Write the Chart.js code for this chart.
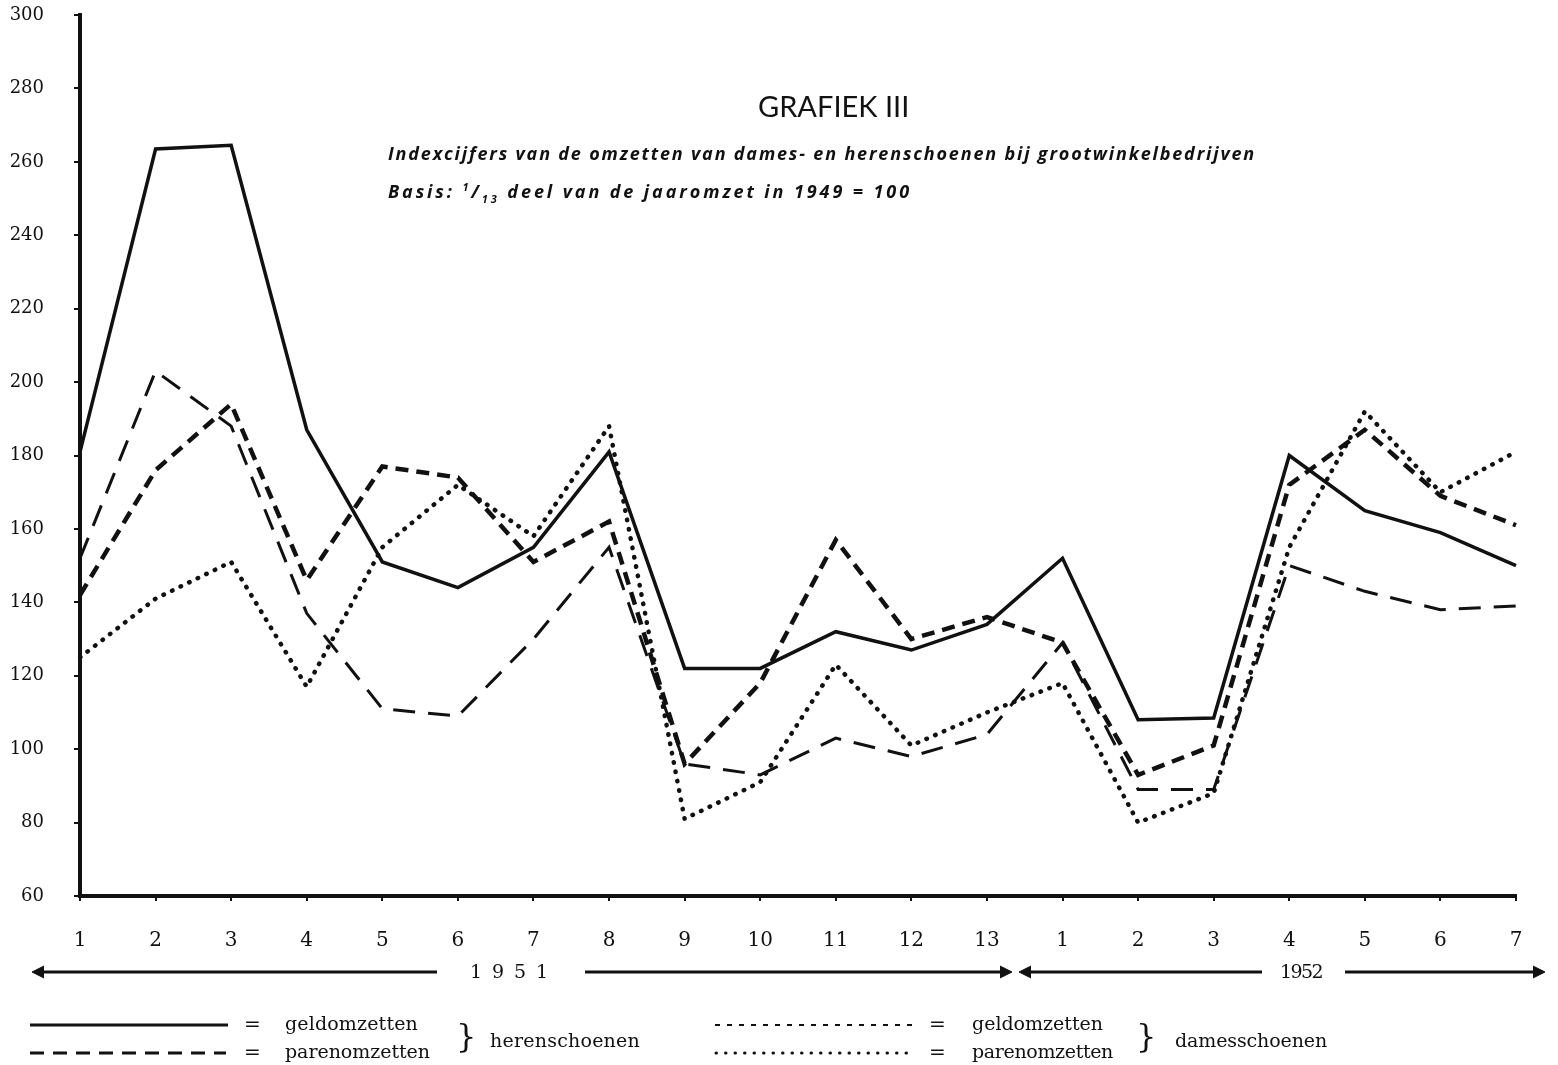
<!DOCTYPE html>
<html><head><meta charset="utf-8">
<script src="https://cdn.jsdelivr.net/npm/chart.js@4/dist/chart.umd.min.js"></script>
<style>
body{margin:0;background:#fff;}
#wrap{position:relative;width:1558px;height:1065px;overflow:hidden;background:#fff;}
#c{position:absolute;left:0;top:0;}
#ov{position:absolute;left:0;top:0;}
.t{position:absolute;white-space:nowrap;line-height:1;color:#111;}
.serif{font-family:"DejaVu Serif","Liberation Serif",serif;}
.sans{font-family:Lato,"Open Sans",sans-serif;}
.sub{font-family:"Open Sans",Lato,sans-serif;font-weight:bold;font-style:italic;font-size:18px;}
sup,sub{font-size:11px;}
</style></head>
<body><div id="wrap">
<canvas id="c" width="1558" height="1065"></canvas>
<svg id="ov" width="1558" height="1065" xmlns="http://www.w3.org/2000/svg">
  <g stroke="#111" fill="none" stroke-width="3">
    <line x1="36" y1="972" x2="437" y2="972"/>
    <path d="M44 966 L32 972 L44 978" fill="#111" stroke-width="1"/>
    <line x1="585" y1="972" x2="1005" y2="972"/>
    <path d="M1000 966 L1012 972 L1000 978" fill="#111" stroke-width="1"/>
    <line x1="1026" y1="972" x2="1262" y2="972"/>
    <path d="M1031 966 L1019 972 L1031 978" fill="#111" stroke-width="1"/>
    <line x1="1345" y1="972" x2="1538" y2="972"/>
    <path d="M1533 966 L1545 972 L1533 978" fill="#111" stroke-width="1"/>
  </g>
  <g stroke="#111" fill="none">
    <line x1="30" y1="1025" x2="228" y2="1025" stroke-width="3"/>
    <line x1="30" y1="1053" x2="226" y2="1053" stroke-width="3" stroke-dasharray="14 9"/>
    <line x1="715" y1="1025" x2="915" y2="1025" stroke-width="2" stroke-dasharray="5 7"/>
    <line x1="716" y1="1053" x2="915" y2="1053" stroke-width="3" stroke-dasharray="0.5 9" stroke-linecap="round"/>
  </g>
</svg>
<div class="t sans" id="title" style="left:758px;top:91px;font-size:29px;">GRAFIEK III</div>
<div class="t sub" id="sub1" style="left:388px;top:144px;">Indexcijfers van de omzetten van dames- en herenschoenen bij grootwinkelbedrijven</div>
<div class="t sub" id="sub2" style="left:388px;top:181px;">Basis: <sup>1</sup>/<sub>13</sub> deel van de jaaromzet in 1949 = 100</div>
<div class="t serif" id="y1951" style="left:470px;top:962px;font-size:19px;">1 9 5 1</div>
<div class="t serif" id="y1952" style="left:1280px;top:962px;font-size:19px;">1952</div>
<div class="t serif" style="left:244px;top:1014px;font-size:20px;">=</div>
<div class="t serif" id="l1" style="left:285px;top:1014px;font-size:19px;">geldomzetten</div>
<div class="t serif" style="left:244px;top:1042px;font-size:20px;">=</div>
<div class="t serif" id="l2" style="left:285px;top:1042px;font-size:19px;">parenomzetten</div>
<div class="t serif" style="left:456px;top:1020px;font-size:32px;">}</div>
<div class="t serif" id="l3" style="left:490px;top:1031px;font-size:19px;">herenschoenen</div>
<div class="t serif" style="left:929px;top:1014px;font-size:20px;">=</div>
<div class="t serif" id="l4" style="left:972px;top:1014px;font-size:19px;">geldomzetten</div>
<div class="t serif" style="left:929px;top:1042px;font-size:20px;">=</div>
<div class="t serif" id="l5" style="left:972px;top:1042px;font-size:19px;">parenomzetten</div>
<div class="t serif" style="left:1136px;top:1020px;font-size:32px;">}</div>
<div class="t serif" id="l6" style="left:1175px;top:1031px;font-size:19px;">damesschoenen</div>
</div>
<script>
const labels = ['1','2','3','4','5','6','7','8','9','10','11','12','13','1','2','3','4','5','6','7'];
const yTicks = [60,80,100,120,140,160,180,200,220,240,260,280,300];
// herenschoenen
const herenGeld  = [181, 263.5, 264.5, 187, 151, 144, 155, 181, 122, 122, 132, 127, 134, 152, 108, 108.5, 180, 165, 159, 150];
const herenParen = [152, 203, 188, 137, 111, 109, 130, 155, 96, 93, 103, 98, 104, 129, 89, 89, 150, 143, 138, 139];
// damesschoenen
const damesGeld  = [142, 176, 194, 146, 177, 174, 151, 162, 96, 118, 157, 130, 136, 129, 93, 101, 172, 187, 169, 161];
const damesParen = [125, 141, 151, 117, 155, 172, 158, 188, 81, 91, 123, 101, 110, 118, 80, 88, 155, 192, 170, 181];

const ink = '#111';
new Chart(document.getElementById('c'), {
  type: 'line',
  data: {
    labels: labels,
    datasets: [
      {label:'herenschoenen geldomzetten', data: herenGeld, borderColor: ink, borderWidth: 3.5},
      {label:'herenschoenen parenomzetten', data: herenParen, borderColor: ink, borderWidth: 3, borderDash: [22, 13]},
      {label:'damesschoenen geldomzetten', data: damesGeld, borderColor: ink, borderWidth: 4.5, borderDash: [13, 8]},
      {label:'damesschoenen parenomzetten', data: damesParen, borderColor: ink, borderWidth: 4.5, borderDash: [0.5, 9], borderCapStyle: 'round'}
    ]
  },
  options: {
    responsive: false, animation: false, devicePixelRatio: 1,
    layout: {padding: {top: 15, right: 42, left: 0, bottom: 0}},
    plugins: {legend: {display: false}, tooltip: {enabled: false}, title: {display: false}},
    elements: {point: {radius: 0}, line: {tension: 0, fill: false}},
    scales: {
      x: {
        type: 'category', offset: false,
        grid: {display: true, drawOnChartArea: false, drawTicks: true, tickLength: 5, color: ink, lineWidth: 2},
        border: {display: true, color: ink, width: 4},
        ticks: {font: {family: 'DejaVu Serif', size: 20}, color: ink, padding: 28, maxRotation: 0, autoSkip: false},
        afterFit(s) { s.height = 169; }
      },
      y: {
        min: 60, max: 300,
        afterBuildTicks(s) { s.ticks = yTicks.map(v => ({value: v})); },
        grid: {display: true, drawOnChartArea: false, drawTicks: true, tickLength: 6, color: ink, lineWidth: 2},
        border: {display: true, color: ink, width: 4},
        ticks: {font: {family: 'DejaVu Serif', size: 18}, color: ink, padding: 30},
        afterFit(s) { s.width = 80; s.paddingTop = 8; s.paddingBottom = 8; }
      }
    }
  }
});

function fitWidth(id, target) {
  const el = document.getElementById(id);
  const n = el.textContent.length;
  const w = el.getBoundingClientRect().width;
  el.style.letterSpacing = ((target - w) / n) + 'px';
}
fitWidth('sub1', 868);
fitWidth('sub2', 524);
fitWidth('y1951', 80);
fitWidth('y1952', 42);
fitWidth('l1', 133);
fitWidth('l2', 145);
fitWidth('l3', 150);
fitWidth('l4', 131);
fitWidth('l5', 141);
fitWidth('l6', 152);
</script>
</body></html>
